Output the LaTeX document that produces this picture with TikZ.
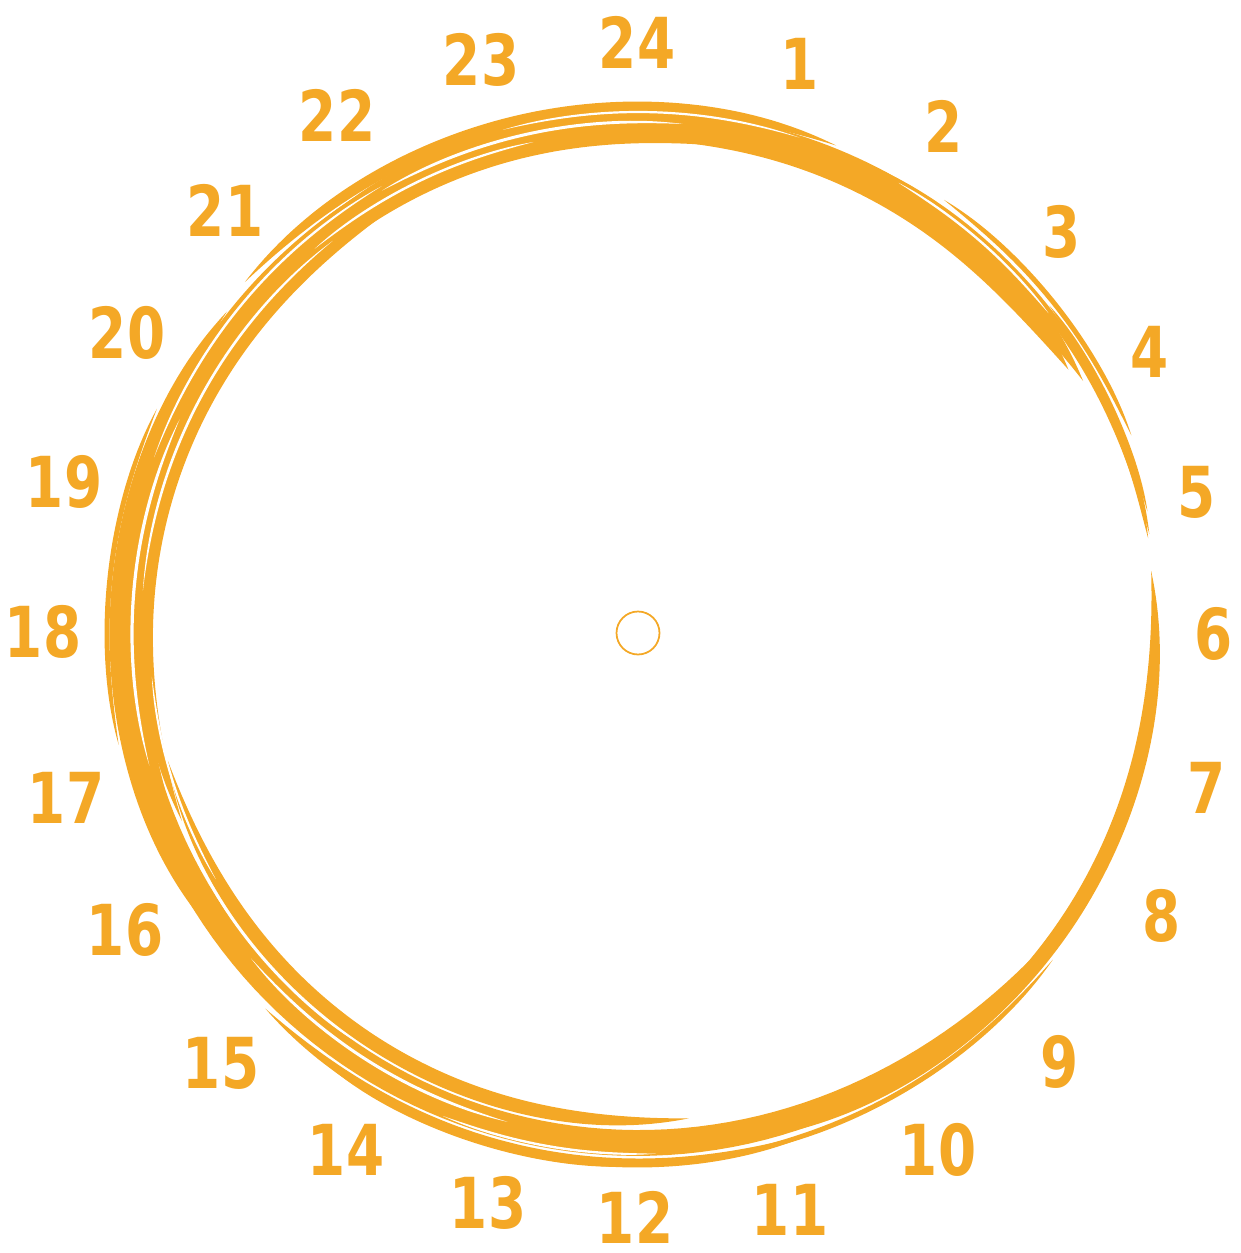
\documentclass[tikz,border=0pt]{standalone}
\usepackage{fontspec}
\setmainfont{DejaVu Sans}
\definecolor{clk}{HTML}{F4A826}
% #1 fill colour, #2 cx, #3 cy, #4 radius, #5 start angle, #6 end angle, #7 half width
\newcommand\brusharc[7]{%
  \fill[#1] plot[domain=#5:#6,samples=90,variable=\t]
    ({#2+(#4+#7*tp((\t-(#5))/((#6)-(#5))))*cos(\t)},
     {#3+(#4+#7*tp((\t-(#5))/((#6)-(#5))))*sin(\t)})
   -- plot[domain=#6:#5,samples=90,variable=\t]
    ({#2+(#4-#7*tp((\t-(#5))/((#6)-(#5))))*cos(\t)},
     {#3+(#4-#7*tp((\t-(#5))/((#6)-(#5))))*sin(\t)})
   -- cycle;}
\begin{document}
\begin{tikzpicture}[x=0.02cm,y=-0.02cm,
  declare function={tp(\u)=1-(1-abs(sin(180*\u)))*(1-abs(sin(180*\u)))*(1-abs(sin(180*\u)));},
  hour/.style={text=clk,font=\fontsize{40}{40}\selectfont\bfseries,inner sep=0pt,xscale=0.78},
  hub/.style={circle,draw=clk,line width=1pt,minimum size=0.86cm,inner sep=0pt}]
\useasboundingbox (0,0) rectangle (1240,1253);
% main brush ring
\brusharc{clk}{638}{634}{517}{-7}{78}{7.5}
\brusharc{clk}{638}{632}{511}{40}{200}{13}
\brusharc{clk}{642}{634}{510}{150}{280}{13}
\brusharc{clk}{638}{638}{514}{225}{330}{14}
\brusharc{clk}{636}{640}{510}{262}{328}{11}
\brusharc{clk}{636}{634}{523}{295}{349}{4}
\brusharc{clk}{640}{634}{530}{305}{338}{2.5}
\brusharc{clk}{634}{630}{527}{322}{347}{2}
\brusharc{clk}{640}{628}{516}{326}{350}{2}
% extra strands
\brusharc{clk}{638}{636}{527}{70}{135}{4.5}
\brusharc{clk}{638}{634}{487}{84}{165}{7}
\brusharc{clk}{640}{634}{524}{148}{218}{6.5}
\brusharc{clk}{640}{636}{494}{158}{240}{7}
\brusharc{clk}{638}{636}{529}{222}{292}{5.5}
\brusharc{clk}{640}{636}{499}{212}{282}{7}
\brusharc{clk}{642}{640}{521}{195}{252}{7}
\brusharc{clk}{636}{634}{529}{38}{82}{2.5}
\brusharc{clk}{638}{634}{532}{90}{125}{2.5}
\brusharc{clk}{640}{634}{533}{168}{205}{2.5}
% dry-brush streaks
\brusharc{white}{640}{634}{508}{165}{205}{1.6}
\brusharc{white}{640}{634}{499}{185}{232}{1.3}
\brusharc{white}{640}{634}{517}{200}{240}{1.2}
\brusharc{white}{640}{634}{490}{150}{175}{1.1}
\brusharc{white}{638}{634}{512}{240}{275}{1.5}
\brusharc{white}{638}{634}{522}{255}{288}{1.1}
\brusharc{white}{638}{634}{503}{230}{258}{1.2}
\brusharc{white}{638}{634}{505}{105}{140}{1.5}
\brusharc{white}{638}{634}{520}{88}{112}{1.2}
\brusharc{white}{638}{634}{521}{300}{322}{1.2}
\brusharc{white}{638}{634}{496}{125}{150}{1.1}
% hub
\node[hub] (hub) at (638,633) {};
% hour labels
\node[hour] (h1)  at (800,64)   {1};
\node[hour] (h2)  at (944,126)  {2};
\node[hour] (h3)  at (1062,232) {3};
\node[hour] (h4)  at (1150,352) {4};
\node[hour] (h5)  at (1197,492) {5};
\node[hour] (h6)  at (1214,634) {6};
\node[hour] (h7)  at (1207,788) {7};
\node[hour] (h8)  at (1162,916) {8};
\node[hour] (h9)  at (1060,1062) {9};
\node[hour] (h10) at (938,1150) {10};
\node[hour] (h11) at (790,1210) {11};
\node[hour] (h12) at (635,1217) {12};
\node[hour] (h13) at (488,1203) {13};
\node[hour] (h14) at (346,1150) {14};
\node[hour] (h15) at (221,1063) {15};
\node[hour] (h16) at (125,930)  {16};
\node[hour] (h17) at (66,798)   {17};
\node[hour] (h18) at (43,632)   {18};
\node[hour] (h19) at (64,482)   {19};
\node[hour] (h20) at (127,333)  {20};
\node[hour] (h21) at (225,210)  {21};
\node[hour] (h22) at (337,115)  {22};
\node[hour] (h23) at (481,60)   {23};
\node[hour] (h24) at (637,42)   {24};
\end{tikzpicture}
\end{document}
